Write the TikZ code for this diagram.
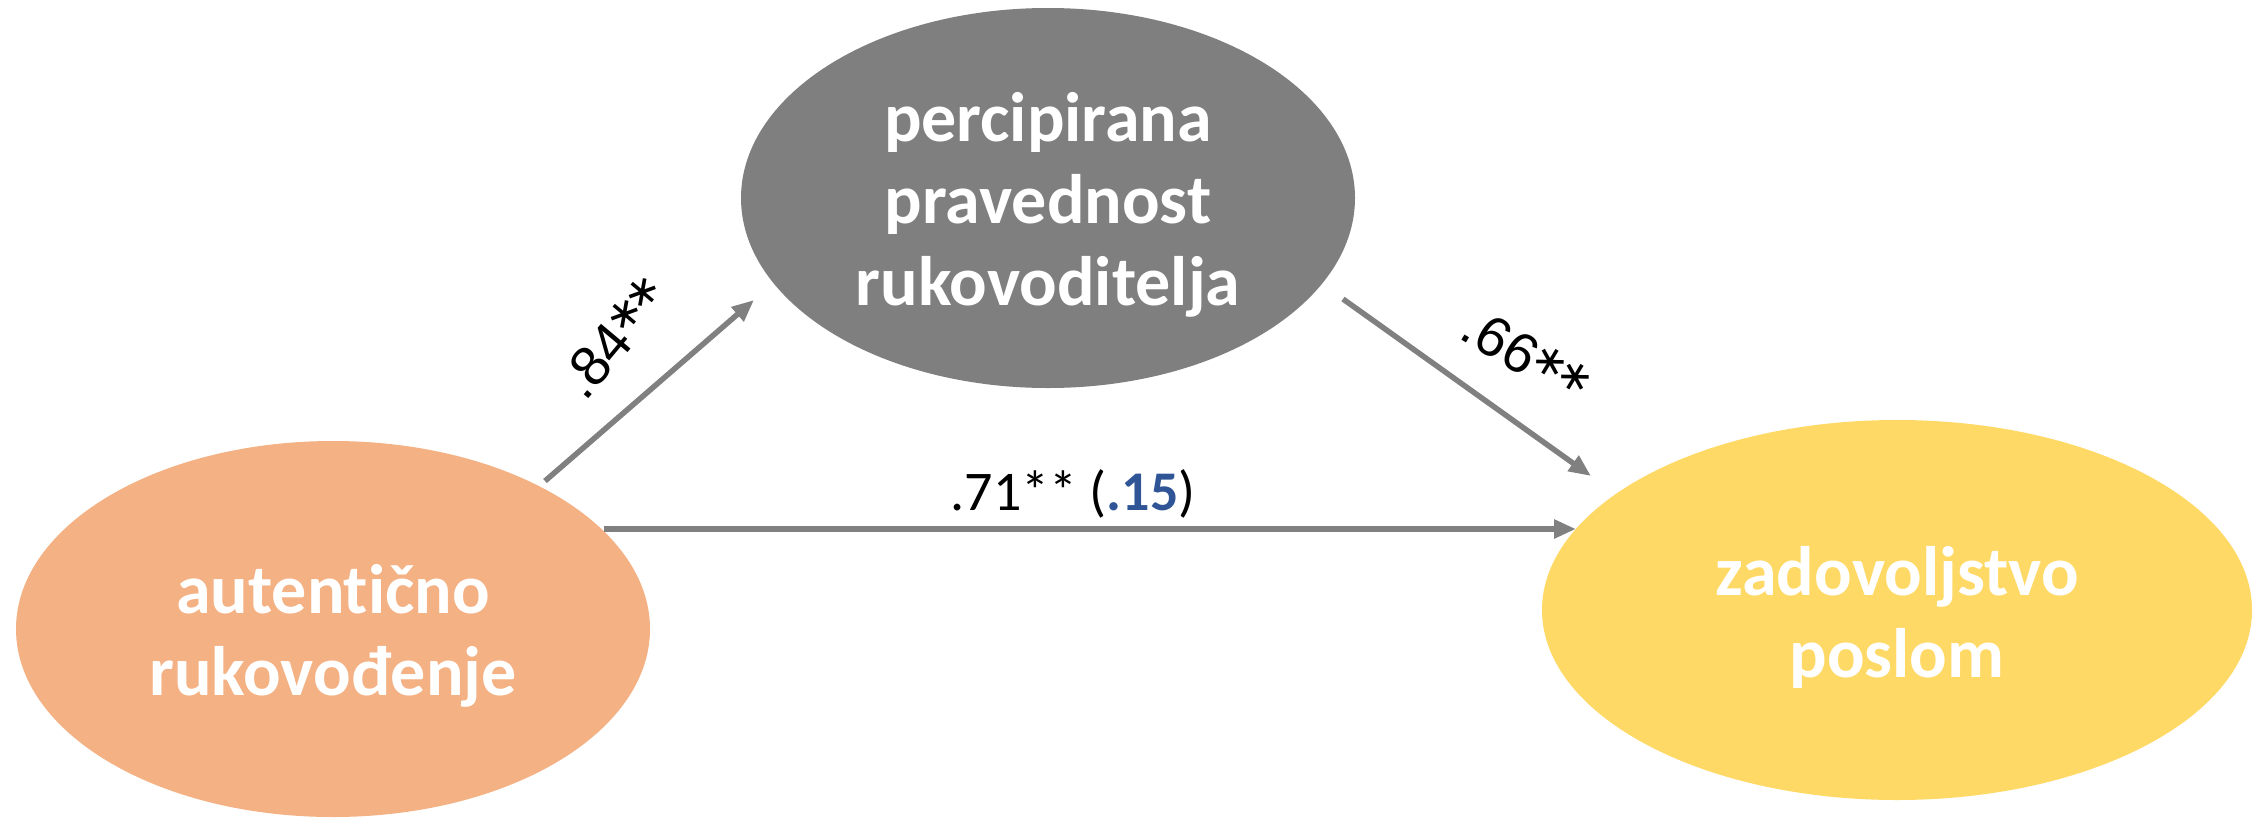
\documentclass[tikz,border=0pt]{standalone}
\usepackage{fontspec}
\setmainfont{Carlito}[Ligatures=NoCommon]
\newfontfamily\arialfont{Liberation Sans}
\newfontfamily\starfont{DejaVu Sans}
\usetikzlibrary{arrows.meta,shapes.geometric,calc}
\definecolor{ovalorange}{HTML}{F4B183}
\definecolor{ovalgrey}{HTML}{7F7F7F}
\definecolor{ovalyellow}{HTML}{FFD966}
\definecolor{pathgrey}{HTML}{808080}
\definecolor{coefblue}{HTML}{2F5597}
% significance mark: a centred six-armed asterisk
\newcommand{\sigstar}{\makebox[29pt]{\raisebox{13pt}{\fontsize{44}{44}\starfont ∗}}}
\begin{document}
\begin{tikzpicture}[x=1pt,y=-1pt,
  construct/.style={ellipse, draw=none, inner sep=0pt, outer sep=0pt},
  ctext/.style={text=white, font=\fontsize{70}{82}\selectfont\bfseries,
    align=center, inner sep=0pt, yshift=-7pt},
  pathline/.style={draw=pathgrey, line width=5.5pt, -{Triangle[length=22pt,width=18pt]}},
  coef/.style={font=\fontsize{56}{60}\selectfont, inner sep=0pt},
  slantcoef/.style={font=\arialfont\fontsize{56}{60}\selectfont, inner sep=0pt}]
% canvas
\fill[white] (0,0) rectangle (2262,817);
\useasboundingbox (0,0) rectangle (2262,817);

% constructs
\node[construct, fill=ovalorange, minimum width=634pt, minimum height=376pt,
  label={[ctext]center:{autentično\\rukovođenje}}] (lead) at (333,629) {};
\node[construct, fill=ovalgrey, minimum width=614pt, minimum height=380pt,
  label={[ctext]center:{percipirana\\pravednost\\rukovoditelja}}] (just) at (1048,198) {};
\node[construct, fill=ovalyellow, minimum width=710pt, minimum height=380pt,
  label={[ctext]center:{zadovoljstvo\\poslom}}] (sat) at (1897,610) {};

% paths
\draw[pathline] ($(lead)+(212,-148)$) -- ($(just)+(-294,102)$);
\draw[pathline] ($(just)+(295,101)$) -- ($(sat)+(-306,-134)$);
\draw[pathline] ($(lead)+(271,-100)$) -- ($(sat)+(-321,-81)$);

% coefficients
\node[slantcoef, rotate=50] (ca) at (614,338) {.84\sigstar\sigstar};
\node[slantcoef, rotate=-31] (cb) at (1526,355) {.66\sigstar\sigstar};
\node[coef, anchor=base] (cc) at (1073,510) {.71** (\textcolor{coefblue}{\bfseries .15})};
\end{tikzpicture}
\end{document}
